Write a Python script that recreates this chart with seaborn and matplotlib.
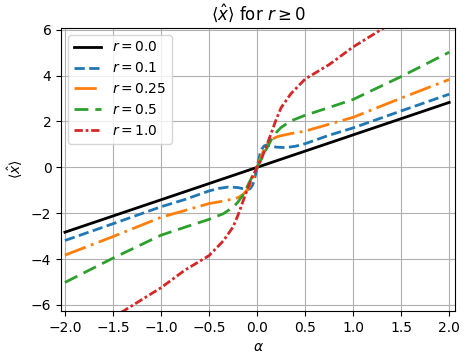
import matplotlib
matplotlib.use("Agg")
import matplotlib.pyplot as plt
import seaborn as sns

# values
alpha_r00 = [-2.0, 0.0, 2.0]
x_r00 = [-2.83, 0.0, 2.83]

alpha_r01 = [-2.0, -1.5, -1.0, -0.75, -0.5, -0.4, -0.3, -0.2, -0.15, -0.1, -0.075, -0.05, -0.03, -0.015, 0.0,
             0.015, 0.03, 0.05, 0.075, 0.1, 0.15, 0.2, 0.3, 0.4, 0.5, 0.75, 1.0, 1.5, 2.0]
x_r01 = [-3.19, -2.46, -1.72, -1.40, -1.03, -0.92, -0.86, -0.88, -0.93, -0.97, -0.94, -0.80, -0.58, -0.30, 0.0,
         0.30, 0.58, 0.80, 0.94, 0.97, 0.93, 0.88, 0.86, 0.92, 1.03, 1.40, 1.72, 2.46, 3.19]

alpha_r025 = [-2.0, -1.5, -1.0, -0.75, -0.5, -0.35, -0.25, -0.2, -0.15, -0.1, -0.07, -0.035, 0.0,
              0.035, 0.07, 0.1, 0.15, 0.2, 0.25, 0.35, 0.5, 0.75, 1.0, 1.5, 2.0]
x_r025 = [-3.83, -3.02, -2.18, -1.88, -1.58, -1.47, -1.38, -1.32, -1.20, -0.97, -0.75, -0.40, 0.0,
          0.40, 0.75, 0.97, 1.20, 1.32, 1.38, 1.47, 1.58, 1.88, 2.18, 3.02, 3.83]

alpha_r05 = [-2.0, -1.5, -1.0, -0.75, -0.5, -0.35, -0.25, -0.2, -0.15, -0.1, -0.05, 0.0,
             0.05, 0.1, 0.15, 0.2, 0.25, 0.35, 0.5, 0.75, 1.0, 1.5, 2.0]
x_r05 = [-5.02, -3.96, -2.96, -2.61, -2.27, -2.02, -1.74, -1.52, -1.22, -0.82, -0.40, 0.0,
         0.40, 0.82, 1.22, 1.52, 1.74, 2.02, 2.27, 2.61, 2.96, 3.96, 5.02]

alpha_r10 = [-2.0, -1.5, -1.0, -0.75, -0.5, -0.35, -0.25, -0.2, -0.15, -0.1, -0.05, 0.0,
             0.05, 0.1, 0.15, 0.2, 0.25, 0.35, 0.5, 0.75, 1.0, 1.5, 2.0]
x_r10 = [-7.90, -6.55, -5.25, -4.48, -3.85, -3.20, -2.60, -2.10, -1.52, -0.95, -0.42, 0.0,
         0.42, 0.95, 1.52, 2.10, 2.60, 3.20, 3.85, 4.48, 5.25, 6.55, 7.90]

series = [
    (alpha_r00, x_r00, r"$r = 0.0$", "black", "-"),
    (alpha_r01, x_r01, r"$r = 0.1$", "tab:blue", "--"),
    (alpha_r025, x_r025, r"$r = 0.25$", "tab:orange", (0, (8, 2, 1, 2))),
    (alpha_r05, x_r05, r"$r = 0.5$", "tab:green", (0, (5, 2.5))),
    (alpha_r10, x_r10, r"$r = 1.0$", "tab:red", (0, (3, 1, 1, 1))),
]

fig, ax = plt.subplots(figsize=(4.7, 3.58), dpi=100)
fig.subplots_adjust(left=0.130, right=0.968, top=0.922, bottom=0.131)

for a, v, lab, col, ls in series:
    sns.lineplot(x=a, y=v, ax=ax, color=col, linestyle=ls, linewidth=2, label=lab, sort=False)

ax.set_xlim(-2.04, 2.06)
ax.set_ylim(-6.27, 6.08)
ax.set_xticks([-2.0, -1.5, -1.0, -0.5, 0.0, 0.5, 1.0, 1.5, 2.0])
ax.set_yticks([-6, -4, -2, 0, 2, 4, 6])
ax.grid(True)
ax.set_title(r"$\langle \hat{x} \rangle$ for $r \geq 0$")
ax.set_xlabel(r"$\alpha$")
ax.set_ylabel(r"$\langle \hat{x} \rangle$")
ax.legend(loc="upper left")

fig.savefig("out.png", dpi=100)
